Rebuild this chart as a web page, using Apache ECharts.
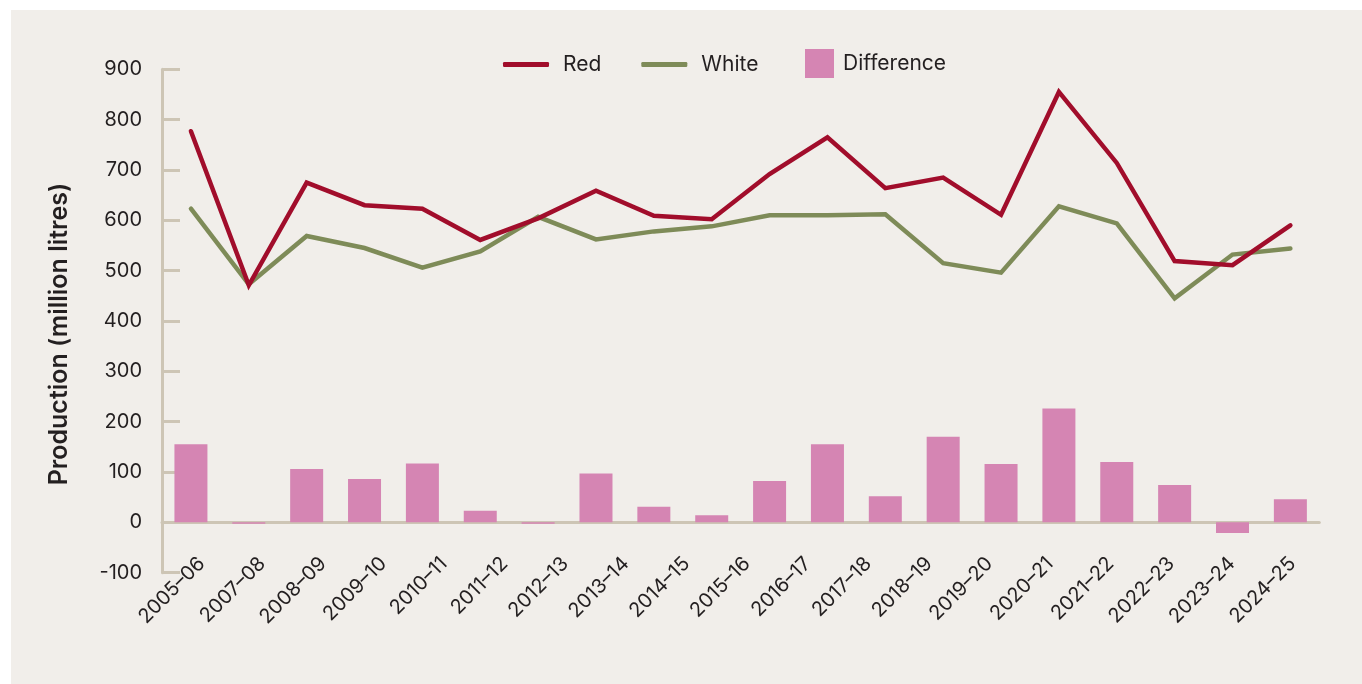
<!DOCTYPE html>
<html>
<head>
<meta charset="utf-8">
<script src="https://cdn.jsdelivr.net/npm/echarts@6/dist/echarts.min.js"></script>
<style>
  html, body { margin: 0; padding: 0; background: #ffffff; }
  #panel { position: absolute; left: 11px; top: 10px; width: 1351px; height: 674px; background: #f1eeea; }
  #chart { position: absolute; left: 0; top: 0; width: 1362px; height: 684px; }
</style>
</head>
<body>
<div id="panel"></div>
<div id="chart"></div>
<script>
// Wine production by season, million litres
const periods = ['2005–06', '2006–07', '2007–08', '2008–09', '2009–10', '2010–11', '2011–12',
  '2012–13', '2013–14', '2014–15', '2015–16', '2016–17', '2017–18', '2018–19', '2019–20',
  '2020–21', '2021–22', '2022–23', '2023–24', '2024–25'];

// Labels printed under the axis
const tickLabels = ['2005–06', '2007–08', '2008–09', '2009–10', '2010–11', '2011–12', '2012–13',
  '2013–14', '2014–15', '2015–16', '2016–17', '2017–18', '2018–19', '2019–20', '2020–21',
  '2021–22', '2022–23', '2023–24', '2024–25'];

const red = [777, 471, 675, 630, 623, 561, 604, 659, 609, 602, 692, 765, 664, 685, 611, 855, 714, 519, 511, 590];
const white = [623, 473, 569, 545, 506, 538, 607, 562, 578, 588, 610, 610, 612, 515, 496, 628, 594, 445, 532, 544];
const difference = [155, -3, 106, 86, 117, 23, -3, 97, 31, 14, 82, 155, 52, 170, 116, 226, 120, 74, -21, 46];

const yTicks = { min: -100, max: 900, step: 100 };

const FONT = 'Inter, "Noto Sans", sans-serif';
const INK = '#231f20';
const AXIS = '#cdc5b5';

const chart = echarts.init(document.getElementById('chart'), null, { renderer: 'canvas' });

chart.setOption({
  backgroundColor: 'transparent',
  textStyle: { fontFamily: FONT, color: INK },
  legend: [
    {
      data: [{ name: 'Red', icon: 'roundRect' }, { name: 'White', icon: 'roundRect' }],
      left: 498, top: 49,
      itemWidth: 46, itemHeight: 5, itemGap: 40,
      textStyle: { fontFamily: FONT, fontSize: 21, color: INK, padding: [0, 0, 0, 9] }
    },
    {
      data: [{ name: 'Difference', icon: 'rect' }],
      left: 800, top: 44,
      itemWidth: 29, itemHeight: 29,
      textStyle: { fontFamily: FONT, fontSize: 21, color: INK, padding: [0, 0, 0, 4] }
    }
  ],
  grid: [
    { left: 162, right: 42.7, top: 69.3, bottom: 111.3 },
    { left: 171.4, right: 39.2, top: 69.3, bottom: 111.3 }
  ],
  xAxis: [
    {
      type: 'category', gridIndex: 0, data: periods,
      axisLine: { onZero: true, lineStyle: { color: AXIS, width: 3 } },
      axisTick: { inside: true, length: 12, lineStyle: { color: AXIS, width: 3 } },
      axisLabel: { show: false },
      splitLine: { show: false }
    },
    {
      type: 'category', gridIndex: 1, data: tickLabels, position: 'bottom', offset: -50.3,
      axisLine: { show: false }, axisTick: { show: false }, splitLine: { show: false },
      axisLabel: { rotate: 45, margin: 38, fontSize: 20, color: INK, fontFamily: FONT, interval: 0 }
    }
  ],
  yAxis: [
    {
      type: 'value', gridIndex: 0,
      min: yTicks.min, max: yTicks.max, interval: yTicks.step,
      name: 'Production (million litres)',
      nameLocation: 'middle', nameRotate: 90, nameGap: 90,
      nameTextStyle: { fontFamily: FONT, fontSize: 25, fontWeight: 600, color: INK, padding: [0, 26, 0, 0] },
      axisLine: { show: true, lineStyle: { color: AXIS, width: 3 } },
      axisTick: { show: true, inside: true, length: 18, lineStyle: { color: AXIS, width: 3 } },
      axisLabel: { fontSize: 20, margin: 20, color: INK, fontFamily: FONT },
      splitLine: { show: false }
    },
    { type: 'value', gridIndex: 1, min: 0, max: 1, show: false }
  ],
  series: [
    {
      name: 'Difference', type: 'bar', xAxisIndex: 0, yAxisIndex: 0,
      data: difference, barWidth: 33,
      itemStyle: { color: '#d585b3' }
    },
    {
      name: 'White', type: 'line', xAxisIndex: 0, yAxisIndex: 0,
      data: white, symbol: 'none', showSymbol: false,
      lineStyle: { color: '#7e8b58', width: 4.5, cap: 'round', join: 'miter' },
      itemStyle: { color: '#7e8b58' }
    },
    {
      name: 'Red', type: 'line', xAxisIndex: 0, yAxisIndex: 0,
      data: red, symbol: 'none', showSymbol: false,
      lineStyle: { color: '#a10d2b', width: 4.5, cap: 'round', join: 'miter' },
      itemStyle: { color: '#a10d2b' }
    }
  ]
});
</script>
</body>
</html>
